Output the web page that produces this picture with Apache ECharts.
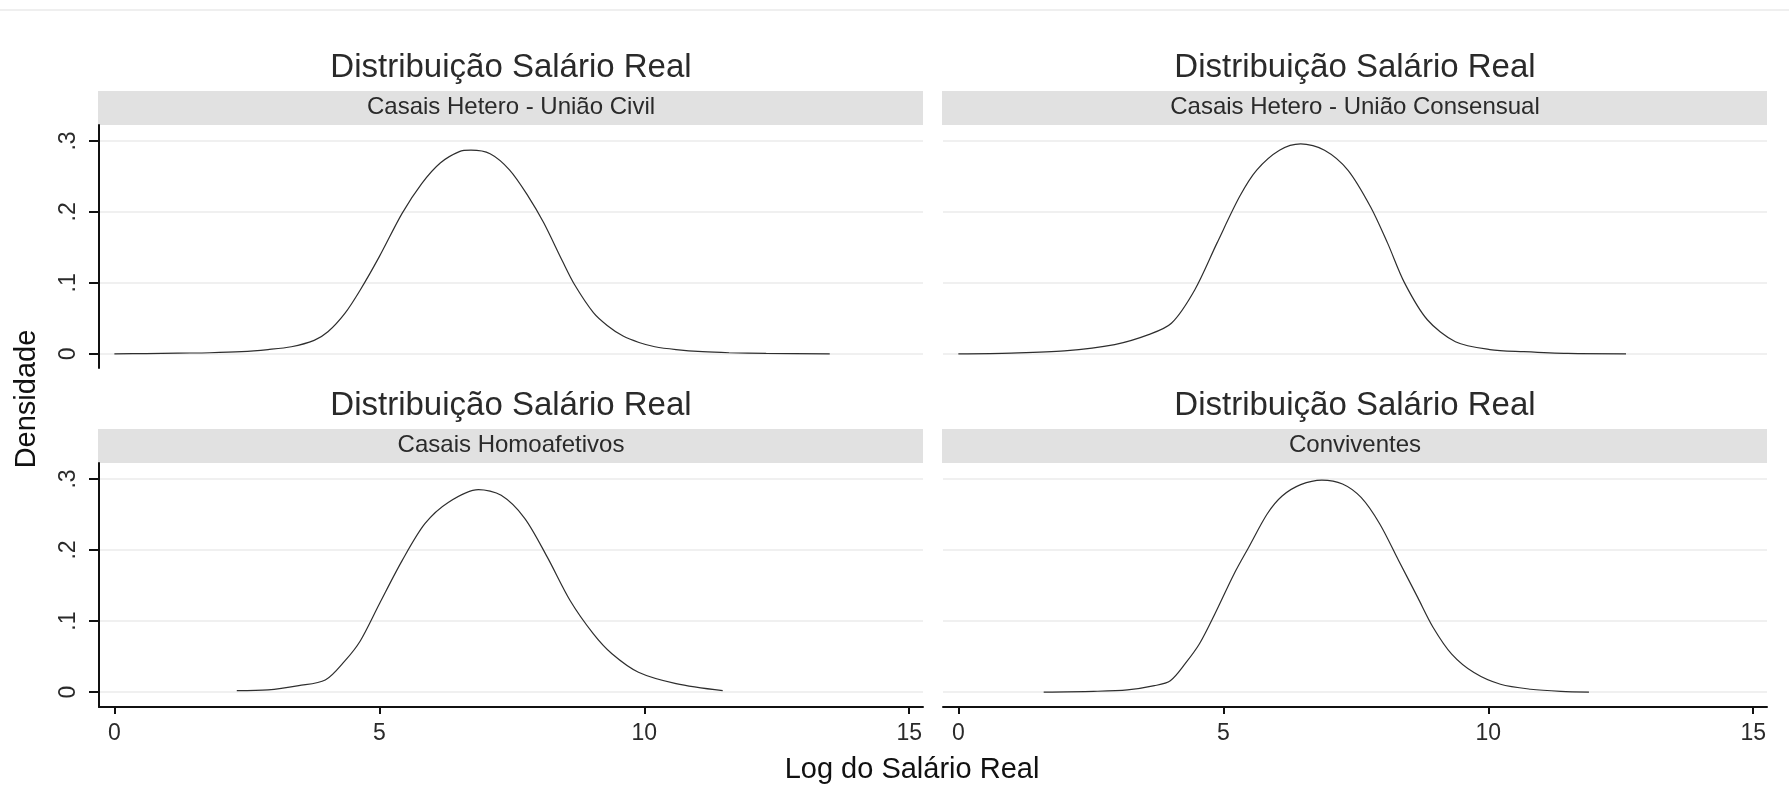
<!DOCTYPE html>
<html>
<head>
<meta charset="utf-8">
<script src="https://cdn.jsdelivr.net/npm/echarts@6/dist/echarts.min.js"></script>
<style>
html,body{margin:0;padding:0;background:#ffffff;}
#chart{width:1789px;height:811px;}
</style>
</head>
<body>
<div id="chart"></div>
<script>
// ---------- data ----------
const mainTitle = 'Distribuição Salário Real';
const panelNames = ['Casais Hetero - União Civil', 'Casais Hetero - União Consensual', 'Casais Homoafetivos', 'Conviventes'];
const xAxisTitle = 'Log do Salário Real';
const yAxisTitle = 'Densidade';
const xTicks = [0, 5, 10, 15];
const xTickLabels = ['0', '5', '10', '15'];
const yTicks = [0, 0.1, 0.2, 0.3];
const yTickLabels = ['0', '.1', '.2', '.3'];

const civil = [[0,0],[0.6,0.0003],[1.2,0.001],[1.8,0.0015],[2.4,0.003],[2.9,0.006],[3.34,0.010],[3.77,0.019],[4.03,0.031],[4.35,0.057],[4.64,0.090],[5.0,0.137],[5.43,0.198],[5.8,0.240],[6.15,0.269],[6.51,0.285],[6.73,0.287],[7.09,0.282],[7.46,0.259],[7.81,0.222],[8.1,0.185],[8.46,0.130],[8.68,0.098],[9.04,0.058],[9.3,0.040],[9.6,0.025],[9.9,0.016],[10.2,0.010],[10.6,0.006],[11.1,0.003],[11.6,0.0015],[12.3,0.0005],[13.5,0]];
const consensual = [[0,0],[1.0,0.001],[2.0,0.004],[2.95,0.013],[3.59,0.027],[4.02,0.043],[4.46,0.090],[4.88,0.156],[5.31,0.222],[5.63,0.259],[6.06,0.287],[6.46,0.296],[6.91,0.287],[7.35,0.259],[7.78,0.207],[8.1,0.156],[8.42,0.100],[8.85,0.048],[9.38,0.017],[10.03,0.006],[10.67,0.003],[11.5,0.0005],[12.6,0]];
const homoafetivos = [[2.31,0.002],[2.9,0.003],[3.48,0.009],[3.98,0.017],[4.35,0.044],[4.64,0.072],[5.0,0.124],[5.43,0.185],[5.86,0.237],[6.3,0.267],[6.87,0.285],[7.3,0.277],[7.74,0.245],[8.17,0.19],[8.6,0.129],[9.04,0.082],[9.39,0.054],[9.89,0.028],[10.6,0.012],[11.48,0.002]];
const conviventes = [[1.61,0],[2.55,0.001],[3.19,0.003],[3.7,0.009],[4.0,0.016],[4.28,0.040],[4.55,0.068],[4.84,0.110],[5.2,0.166],[5.48,0.204],[5.83,0.251],[6.11,0.276],[6.46,0.292],[6.86,0.2985],[7.25,0.293],[7.6,0.274],[7.95,0.237],[8.31,0.185],[8.67,0.133],[8.96,0.091],[9.31,0.0535],[9.73,0.0275],[10.23,0.011],[10.8,0.004],[11.37,0.001],[11.9,0]];
const panelData = [civil, consensual, homoafetivos, conviventes];

// ---------- layout ----------
const FONT = '"Liberation Sans", Arial, sans-serif';
const grids = [
  {left: 99, top: 125, width: 824, height: 243},
  {left: 943, top: 125, width: 824, height: 243},
  {left: 99, top: 463, width: 824, height: 244},
  {left: 943, top: 463, width: 824, height: 244}
];
const yMins = [-0.02, -0.02, -0.021, -0.021];
const stripTop = [91, 91, 429, 429];
const titleMid = [67.5, 67.5, 405.5, 405.5];
const stripMid = [107, 107, 445, 445];

function labelFor(ticks, labels, v) {
  for (let i = 0; i < ticks.length; i++) if (Math.abs(ticks[i] - v) < 1e-9) return labels[i];
  return '';
}

const option = {
  animation: false,
  backgroundColor: '#ffffff',
  title: [],
  grid: grids.map(g => Object.assign({containLabel: false}, g)),
  xAxis: [],
  yAxis: [],
  series: [],
  graphic: []
};

option.graphic.push({type: 'rect', shape: {x: 0, y: 9, width: 1789, height: 2}, style: {fill: '#efefef'}, silent: true});

for (let i = 0; i < 4; i++) {
  const g = grids[i];
  const isLeft = (i % 2 === 0);
  const isBottom = (i >= 2);
  option.graphic.push({type: 'rect', shape: {x: g.left - 1, y: stripTop[i], width: g.width + 1, height: 34}, style: {fill: '#e1e1e1'}, silent: true, z: 0});
  option.title.push({
    text: mainTitle, left: g.left + g.width / 2, top: titleMid[i], padding: 0,
    textAlign: 'center', textVerticalAlign: 'middle',
    textStyle: {fontFamily: FONT, fontSize: 33, fontWeight: 'normal', color: '#2a2a2a'}
  });
  option.title.push({
    text: panelNames[i], left: g.left + g.width / 2, top: stripMid[i], padding: 0,
    textAlign: 'center', textVerticalAlign: 'middle',
    textStyle: {fontFamily: FONT, fontSize: 24, fontWeight: 'normal', color: '#2a2a2a'}
  });
  option.xAxis.push({
    type: 'value', gridIndex: i, min: -0.29, max: 15.26,
    axisLine: {show: isBottom, onZero: false, lineStyle: {color: '#111', width: 2}},
    axisTick: {show: isBottom, customValues: xTicks, length: 7, lineStyle: {color: '#111', width: 2}},
    axisLabel: {show: isBottom, customValues: xTicks, margin: 15, fontFamily: FONT, fontSize: 23, color: '#2a2a2a',
      formatter: v => labelFor(xTicks, xTickLabels, v)},
    splitLine: {show: false}
  });
  option.yAxis.push({
    type: 'value', gridIndex: i, min: yMins[i], max: 0.3225,
    axisLine: {show: isLeft, onZero: false, lineStyle: {color: '#111', width: 2}},
    axisTick: {show: isLeft, customValues: yTicks, length: 10, lineStyle: {color: '#111', width: 2}},
    axisLabel: {show: isLeft, customValues: yTicks, rotate: 90, margin: 19, fontFamily: FONT, fontSize: 23, color: '#2a2a2a',
      formatter: v => labelFor(yTicks, yTickLabels, v)},
    splitLine: {show: true, lineStyle: {color: '#ebebeb', width: 1.5}}
  });
  option.series.push({
    type: 'line', xAxisIndex: i, yAxisIndex: i, data: panelData[i],
    showSymbol: false, symbol: 'none', smooth: 0.3,
    lineStyle: {color: '#2e2e2e', width: 1.2}, z: 3
  });
}

option.graphic.push({
  type: 'text', x: 912, y: 770,
  style: {text: xAxisTitle, align: 'center', verticalAlign: 'middle', font: '29px "Liberation Sans", Arial, sans-serif', fill: '#111'}
});
option.graphic.push({
  type: 'text', x: 27, y: 399, rotation: Math.PI / 2,
  style: {text: yAxisTitle, align: 'center', verticalAlign: 'middle', font: '29px "Liberation Sans", Arial, sans-serif', fill: '#111'}
});

const chart = echarts.init(document.getElementById('chart'), null, {renderer: 'canvas'});
chart.setOption(option);
</script>
</body>
</html>
